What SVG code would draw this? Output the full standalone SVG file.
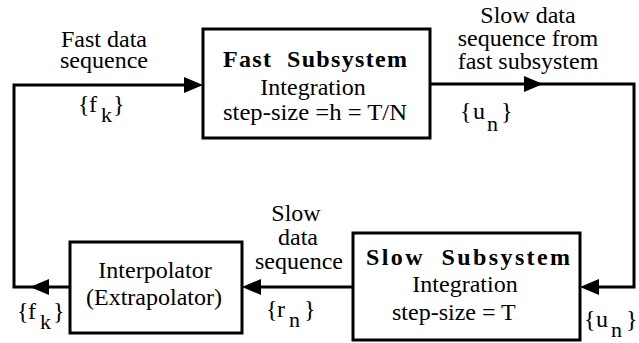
<svg xmlns="http://www.w3.org/2000/svg" width="639" height="343" viewBox="0 0 639 343">
  <style>
    .box { fill: #ffffff; stroke: #000000; stroke-width: 3; }
    .wire { fill: none; stroke: #000000; stroke-width: 3; }
    .head { fill: #000000; stroke: none; }
    text { font-family: "Liberation Serif", serif; font-size: 24px; fill: #000000; }
    .mid { text-anchor: middle; }
    .title { font-weight: bold; }
    .sub { font-size: 22px; }
  </style>
  <defs>
    <!-- filled arrowhead, tip at the origin, pointing along +x -->
    <path id="arrowhead" class="head" d="M0,0 L-19,-8 L-19,8 Z"/>
  </defs>

  <!-- connectors -->
  <g id="connectors">
    <!-- interpolator output back round to the fast subsystem -->
    <path class="wire" d="M70,287 H14 V85 H186"/>
    <use href="#arrowhead" transform="translate(30,287) rotate(180)"/>
    <use href="#arrowhead" transform="translate(203,85)"/>
    <!-- fast subsystem output down to the slow subsystem -->
    <path class="wire" d="M430,84 H634 V287 H596"/>
    <use href="#arrowhead" transform="translate(543,84)"/>
    <use href="#arrowhead" transform="translate(580,287) rotate(180)"/>
    <!-- slow subsystem output to the interpolator -->
    <path class="wire" d="M353,287 H258"/>
    <use href="#arrowhead" transform="translate(242,287) rotate(180)"/>
  </g>

  <!-- connector labels -->
  <g id="labels">
    <text class="mid" x="104" y="47">Fast data</text>
    <text class="mid" x="104" y="68">sequence</text>
    <text x="78" y="112">{<tspan x="89">f</tspan><tspan class="sub" x="101" y="122">k</tspan><tspan x="113" y="112">}</tspan></text>

    <text class="mid" x="528" y="23">Slow data</text>
    <text class="mid" x="528" y="46">sequence from</text>
    <text class="mid" x="528" y="69">fast subsystem</text>
    <text x="460" y="119">{<tspan x="473">u</tspan><tspan class="sub" x="487" y="131">n</tspan><tspan x="501" y="119">}</tspan></text>

    <text class="mid" x="296" y="221">Slow</text>
    <text class="mid" x="298" y="245">data</text>
    <text class="mid" x="299" y="269">sequence</text>
    <text x="266" y="317">{<tspan x="277">r</tspan><tspan class="sub" x="289" y="327">n</tspan><tspan x="304" y="317">}</tspan></text>

    <text x="17" y="319">{<tspan x="28">f</tspan><tspan class="sub" x="40" y="329">k</tspan><tspan x="53" y="319">}</tspan></text>
    <text x="584" y="327">{<tspan x="596">u</tspan><tspan class="sub" x="611" y="337">n</tspan><tspan x="626" y="327">}</tspan></text>
  </g>

  <!-- fast subsystem -->
  <g id="fast-subsystem">
    <rect class="box" x="203" y="29" width="227" height="109"/>
    <text class="title" x="223" y="67" textLength="184" lengthAdjust="spacing" xml:space="preserve">Fast  Subsystem</text>
    <text class="mid" x="313" y="95">Integration</text>
    <text x="223" y="120" textLength="184" lengthAdjust="spacingAndGlyphs">step-size =h = T/N</text>
  </g>

  <!-- slow subsystem -->
  <g id="slow-subsystem">
    <rect class="box" x="353" y="233" width="227" height="107"/>
    <text class="title" x="366" y="265" textLength="204" lengthAdjust="spacing" xml:space="preserve">Slow  Subsystem</text>
    <text class="mid" x="465" y="292">Integration</text>
    <text x="392" y="320">step-size = T</text>
  </g>

  <!-- interpolator -->
  <g id="interpolator">
    <rect class="box" x="70" y="242" width="172" height="91"/>
    <text class="mid" x="155" y="278">Interpolator</text>
    <text class="mid" x="154" y="305">(Extrapolator)</text>
  </g>
</svg>
